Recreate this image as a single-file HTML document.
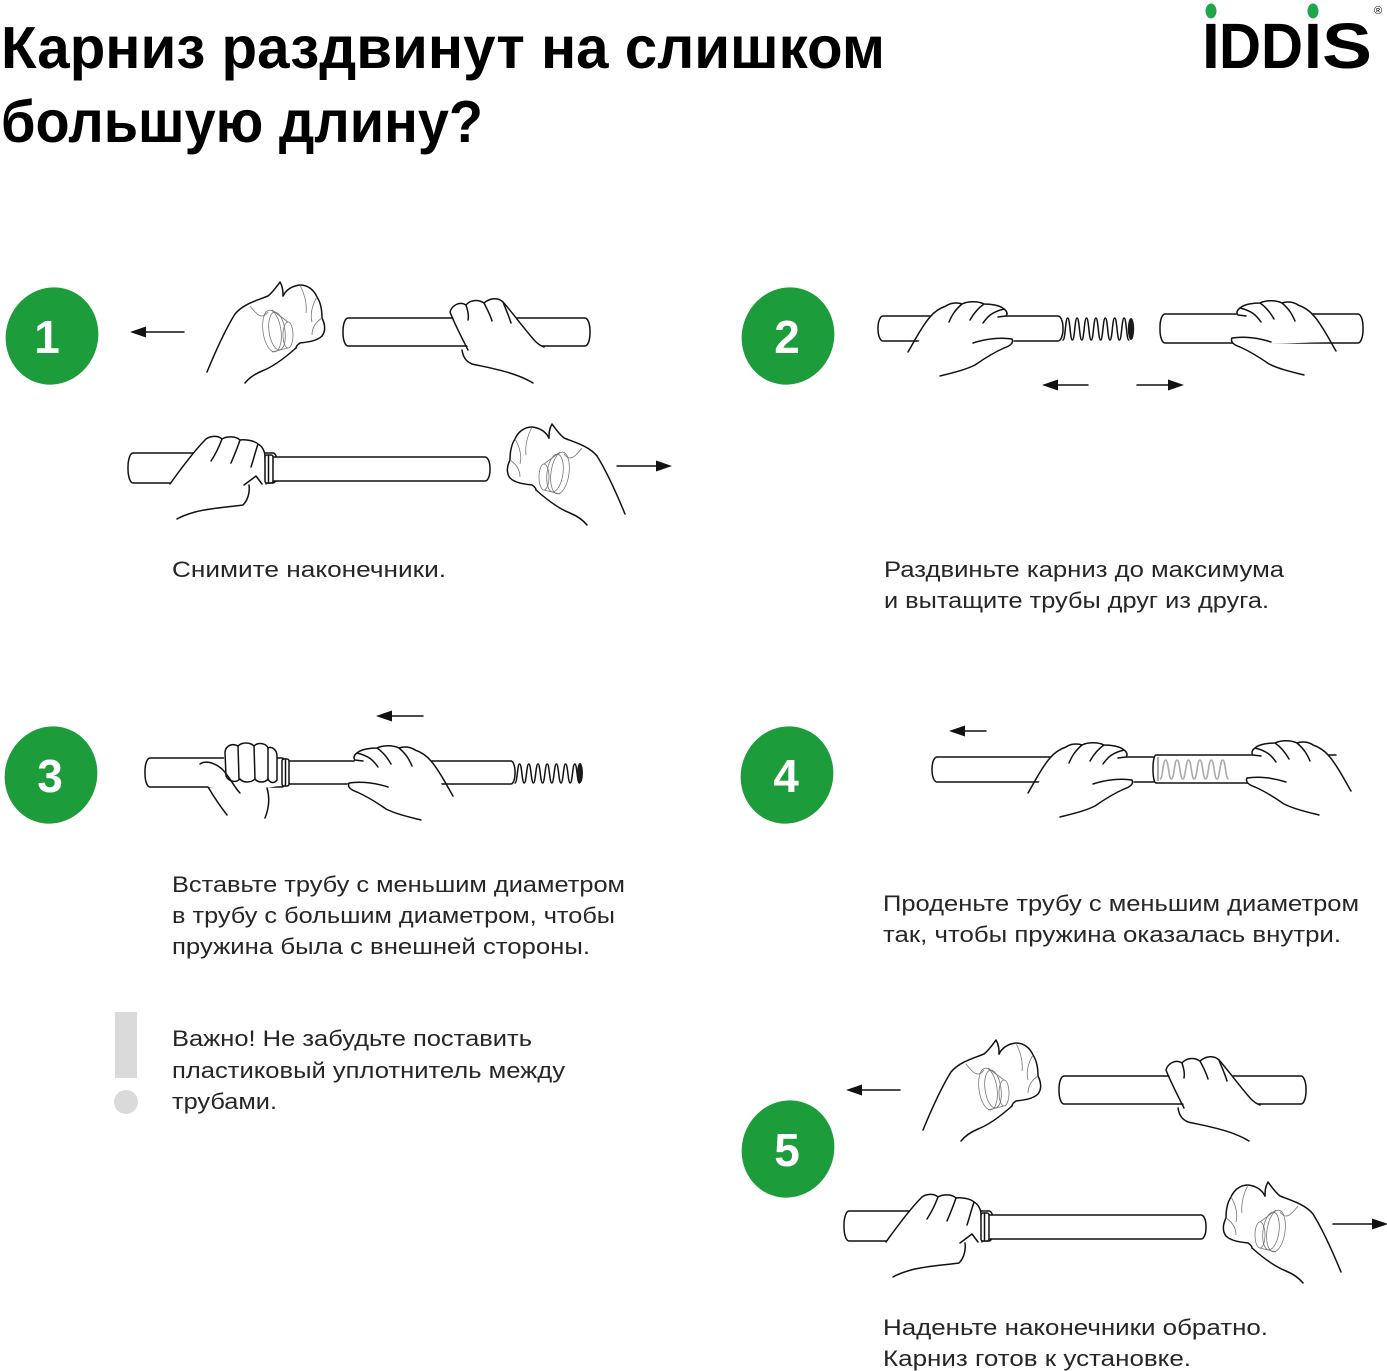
<!DOCTYPE html>
<html><head><meta charset="utf-8"><style>
html,body{margin:0;padding:0;background:#fff;}
svg{display:block;}
.t{font-family:"Liberation Sans",sans-serif;font-size:22px;fill:#262626;}
.ln{fill:none;stroke:#111;stroke-width:1.5;stroke-linecap:round;stroke-linejoin:round;}
.th{fill:none;stroke:#777;stroke-width:0.8;}
.wf{fill:#fff;stroke:none;}
.pipe{fill:#fff;stroke:#111;stroke-width:1.5;}
</style></head><body>
<svg width="1387" height="1371" viewBox="0 0 1387 1371" xmlns="http://www.w3.org/2000/svg">
<defs>
  <g id="fistA">
    <path class="wf" d="M207,372 C214,355 225,330 235,314 C243,304 258,300 268,296 C273,292 277,286 280,282 C283,287 283,292 283,296 C286,290 292,286 300,285 C308,285 314,290 317,297 C321,303 322,312 322,318 C325,324 326,331 322,336 C317,341 308,342 300,343 C297,345 296,347 296,348 C287,356 275,366 262,371 C255,374 249,378 245,383 Z"/>
    <path class="ln" d="M207,372 C214,355 225,330 235,314 C243,304 258,300 268,296 C273,292 277,286 280,282 C283,287 283,292 283,296"/>
    <path class="ln" d="M283,296 C286,290 292,286 300,285 C308,285 314,290 317,297 C321,303 322,312 322,318 C325,324 326,331 322,336 C317,341 308,342 300,343 C297,345 296,347 296,348"/>
    <path class="ln" d="M296,348 C287,356 275,366 262,371 C255,374 249,378 245,383"/>
    <path class="th" d="M300,285 C305,295 307,305 306,313 M317,297 C312,305 310,315 312,322 M322,318 C316,322 312,328 312,335 M250,306 C257,315 262,320 268,312"/>
    <ellipse class="th" cx="272" cy="331" rx="9" ry="21" transform="rotate(-8 272 331)"/>
    <ellipse class="th" cx="277" cy="331" rx="8" ry="19" transform="rotate(-8 277 331)"/>
    <ellipse class="th" cx="288" cy="335" rx="5" ry="13"/>
    <path class="th" d="M272,310 L288,322 M272,352 L288,348"/>
  </g>
  <g id="handC">
    <path class="wf" d="M930,316 C935,311 940,308 946,306 C950,303 957,302 962,304 C968,301 978,301 984,304 C990,304 1000,305 1004,309 C1007,311 1008,314 1006,316 L1010,336 L1014,341 L1010,345 L973,345 L918,343 L925,330 Z"/>
    <path class="ln" d="M908,352 C915,340 922,326 930,317 C935,311 940,308 946,306 C950,303 957,302 962,304 C968,301 978,301 984,304 C990,304 1000,305 1004,309 C1007,311 1008,314 1006,316 L998,317"/>
    <path class="ln" d="M973,343 C985,339 1000,337 1012,339 C1014,343 1010,346 1004,348 C995,352 985,358 975,365 C965,370 952,373 940,376"/>
    <path class="ln" d="M949,322 C952,315 955,310 962,304 M970,320 C974,313 978,308 984,304 M983,323 C988,316 992,312 1004,309"/>
  </g>
  <g id="step1">
    <line class="ln" x1="184" y1="332" x2="144" y2="332"/>
    <polygon points="130,332 146,326.5 146,337.5" fill="#111"/>
    <line class="ln" x1="617" y1="466" x2="658" y2="466"/>
    <polygon points="672,466 656,460.5 656,471.5" fill="#111"/>
    <use href="#fistA"/>
    <rect class="pipe" x="343" y="318" width="247" height="28" rx="5" ry="13"/>
    <path class="wf" d="M450,311 C453,305 461,301 466,304 C470,300 478,298 484,302 C490,297 498,297 502,302 C512,312 525,330 535,341 L544,347 L468,347 Z"/>
    <path class="ln" d="M468,350 C462,338 455,325 450,312 C452,305 460,301 466,305 C470,300 478,299 484,303 C490,298 498,297 503,302 C512,312 525,330 535,341 C538,344 541,346 544,347"/>
    <path class="ln" d="M466,305 C468,311 469,316 468,320 M484,303 C487,309 490,314 492,321 M503,302 C506,310 509,316 511,323"/>
    <path class="ln" d="M462,350 C463,356 465,361 472,364 C490,368 515,372 533,383"/>
    <rect class="pipe" x="128" y="453" width="150" height="30" rx="5" ry="14"/>
    <rect class="pipe" x="268" y="457" width="222" height="24" rx="5" ry="11"/>
    <path class="wf" d="M170,484 C180,470 195,450 206,439 C210,436 218,435 222,439 C227,436 236,436 240,440 C246,439 255,441 258,444 C262,446 265,451 265,457 L267,484 Z"/>
    <path class="ln" d="M170,484 C180,470 195,450 206,439 C210,436 218,435 222,439 C227,436 236,436 240,440 C246,439 255,441 258,444 C262,446 265,451 265,457 L266,484"/>
    <path class="ln" d="M222,439 C219,447 215,455 211,461 M240,440 C237,449 234,456 231,463 M258,444 C255,453 253,461 251,467 M244,485 L256,476 L262,484"/>
    <path class="ln" d="M249,485 C250,492 248,500 243,505 C230,507 210,508 195,512 C188,514 182,516 177,519"/>
    <rect x="265" y="455" width="8" height="28" rx="2" fill="#fff" stroke="#111" stroke-width="1.5"/>
    <line class="ln" x1="268.5" y1="456" x2="268.5" y2="482"/>
    <use href="#fistA" transform="translate(832,142) scale(-1,1)"/>
  </g>
</defs>

<text x="1" y="68" font-family="Liberation Sans, sans-serif" font-weight="bold" font-size="59" fill="#000" textLength="884" lengthAdjust="spacingAndGlyphs">Карниз раздвинут на слишком</text>
<text x="1" y="142" font-family="Liberation Sans, sans-serif" font-weight="bold" font-size="59" fill="#000" textLength="482" lengthAdjust="spacingAndGlyphs">большую длину?</text>

<g font-family="Liberation Sans, sans-serif" font-weight="bold" font-size="64" fill="#000">
  <text x="1202" y="68">I</text>
  <text x="1219" y="68" textLength="84" lengthAdjust="spacingAndGlyphs">DD</text>
  <text x="1304" y="68">I</text>
  <text x="1322" y="68" textLength="50" lengthAdjust="spacingAndGlyphs">S</text>
</g>
<ellipse cx="1211" cy="11" rx="5.5" ry="7.5" fill="#1fa64a"/>
<ellipse cx="1313" cy="11" rx="5.5" ry="7.5" fill="#1fa64a"/>
<text x="1374" y="14" font-family="Liberation Sans, sans-serif" font-size="11" fill="#000">®</text>

<g fill="#1d9c3c">
  <ellipse cx="52" cy="336" rx="46" ry="49" transform="rotate(20 52 336)"/>
  <ellipse cx="788" cy="336" rx="46" ry="49" transform="rotate(20 788 336)"/>
  <ellipse cx="51" cy="775" rx="46" ry="49" transform="rotate(20 51 775)"/>
  <ellipse cx="787" cy="775" rx="46" ry="49" transform="rotate(20 787 775)"/>
  <ellipse cx="788" cy="1149" rx="46" ry="49" transform="rotate(20 788 1149)"/>
</g>
<g font-family="Liberation Sans, sans-serif" font-weight="bold" font-size="46" fill="#fff" text-anchor="middle">
  <text x="47" y="353">1</text>
  <text x="787" y="353">2</text>
  <text x="50" y="792">3</text>
  <text x="786" y="792">4</text>
  <text x="787" y="1166">5</text>
</g>

<use href="#step1"/>
<use href="#step1" transform="translate(716,758)"/>

<rect class="pipe" x="878" y="316" width="185" height="25" rx="5" ry="12"/>
<path class="ln" stroke-width="1.8" d="M1063,340 c2.35,0 2.35,-22 4.7,-22 s2.35,22 4.7,22 s2.35,-22 4.7,-22 s2.35,22 4.7,22 s2.35,-22 4.7,-22 s2.35,22 4.7,22 s2.35,-22 4.7,-22 s2.35,22 4.7,22 s2.35,-22 4.7,-22 s2.35,22 4.7,22 s2.35,-22 4.7,-22 s2.35,22 4.7,22 s2.35,-22 4.7,-22 s2.35,22 4.7,22"/>
<ellipse cx="1131" cy="329" rx="3.2" ry="11" fill="#1a1a1a"/>
<rect class="pipe" x="1160" y="314" width="203" height="29" rx="5" ry="13"/>
<use href="#handC"/>
<use href="#handC" transform="translate(2244,-1) scale(-1,1)"/>
<line class="ln" x1="1088" y1="385" x2="1055" y2="385"/>
<polygon points="1042,385 1058,379.5 1058,390.5" fill="#111"/>
<line class="ln" x1="1137" y1="385" x2="1171" y2="385"/>
<polygon points="1184,385 1168,379.5 1168,390.5" fill="#111"/>

<line class="ln" x1="423" y1="716" x2="390" y2="716"/>
<polygon points="376,716 392,710.5 392,721.5" fill="#111"/>
<rect class="pipe" x="145" y="758" width="142" height="29" rx="5" ry="13"/>
<rect class="pipe" x="286" y="761" width="229" height="23" rx="4" ry="11"/>
<rect x="282" y="759" width="7" height="27" rx="2" fill="#fff" stroke="#111" stroke-width="1.5"/>
<line class="ln" x1="285.5" y1="760" x2="285.5" y2="785"/>
<path class="ln" stroke-width="1.8" d="M515,783 c2.3,0 2.3,-19 4.6,-19 s2.3,19 4.6,19 s2.3,-19 4.6,-19 s2.3,19 4.6,19 s2.3,-19 4.6,-19 s2.3,19 4.6,19 s2.3,-19 4.6,-19 s2.3,19 4.6,19 s2.3,-19 4.6,-19 s2.3,19 4.6,19 s2.3,-19 4.6,-19 s2.3,19 4.6,19 s2.3,-19 4.6,-19 s2.3,19 4.6,19"/>
<ellipse cx="580" cy="773" rx="3" ry="10" fill="#1a1a1a"/>
<path class="wf" d="M225,752 C226,745 233,743 238,746 C242,742 250,742 254,746 C258,742 266,743 268,748 C272,746 277,750 277,756 L278,786 L240,793 L208,787 L200,764 C206,760 215,763 222,769 Z"/>
<path class="ln" d="M226,776 L225,752 C226,745 233,743 238,746 C242,742 250,742 254,746 C258,742 266,743 268,748 C272,746 277,750 277,756 L277,780 C274,784 270,783 268,779 C265,783 258,783 255,779 C251,783 243,783 240,779 C236,783 229,782 226,776"/>
<path class="ln" d="M238,746 L239,779 M254,746 L255,779 M268,748 L268,779"/>
<path class="ln" d="M200,764 C206,760 215,763 222,769 C230,777 234,787 240,793"/>
<path class="ln" d="M208,787 C214,797 220,806 227,815 M267,788 C270,798 269,808 265,818"/>
<use href="#handC" transform="translate(1361,444) scale(-1,1)"/>

<line class="ln" x1="986" y1="731" x2="963" y2="731"/>
<polygon points="949,731 965,725.5 965,736.5" fill="#111"/>
<rect class="pipe" x="932" y="757" width="226" height="25" rx="5" ry="12"/>
<rect class="pipe" x="1153" y="755" width="122" height="28" rx="3" ry="13"/>
<line class="ln" x1="1275" y1="755" x2="1336" y2="755"/>
<path fill="none" stroke="#aaa" stroke-width="1.6" d="M1160,779 c2.85,0 2.85,-19 5.7,-19 s2.85,19 5.7,19 s2.85,-19 5.7,-19 s2.85,19 5.7,19 s2.85,-19 5.7,-19 s2.85,19 5.7,19 s2.85,-19 5.7,-19 s2.85,19 5.7,19 s2.85,-19 5.7,-19 s2.85,19 5.7,19 s2.85,-19 5.7,-19 s2.85,19 5.7,19"/>
<line x1="1158" y1="757" x2="1158" y2="781" stroke="#aaa" stroke-width="2"/>
<use href="#handC" transform="translate(120,441)"/>
<use href="#handC" transform="translate(2259,439) scale(-1,1)"/>

<rect x="115" y="1012" width="22" height="66" fill="#dadada"/>
<circle cx="126" cy="1102" r="12" fill="#dadada"/>

<text class="t" x="172" y="577" textLength="274" lengthAdjust="spacingAndGlyphs">Снимите наконечники.</text>
<text class="t" x="884" y="577" textLength="400" lengthAdjust="spacingAndGlyphs">Раздвиньте карниз до максимума</text>
<text class="t" x="884" y="608" textLength="385" lengthAdjust="spacingAndGlyphs">и вытащите трубы друг из друга.</text>
<text class="t" x="172" y="892" textLength="453" lengthAdjust="spacingAndGlyphs">Вставьте трубу с меньшим диаметром</text>
<text class="t" x="172" y="923" textLength="443" lengthAdjust="spacingAndGlyphs">в трубу с большим диаметром, чтобы</text>
<text class="t" x="172" y="954" textLength="418" lengthAdjust="spacingAndGlyphs">пружина была с внешней стороны.</text>
<text class="t" x="172" y="1046" textLength="360" lengthAdjust="spacingAndGlyphs">Важно! Не забудьте поставить</text>
<text class="t" x="172" y="1078" textLength="393" lengthAdjust="spacingAndGlyphs">пластиковый уплотнитель между</text>
<text class="t" x="172" y="1109" textLength="105" lengthAdjust="spacingAndGlyphs">трубами.</text>
<text class="t" x="883" y="911" textLength="476" lengthAdjust="spacingAndGlyphs">Проденьте трубу с меньшим диаметром</text>
<text class="t" x="883" y="942" textLength="458" lengthAdjust="spacingAndGlyphs">так, чтобы пружина оказалась внутри.</text>
<text class="t" x="883" y="1335" textLength="385" lengthAdjust="spacingAndGlyphs">Наденьте наконечники обратно.</text>
<text class="t" x="883" y="1366" textLength="308" lengthAdjust="spacingAndGlyphs">Карниз готов к установке.</text>
</svg>
</body></html>
